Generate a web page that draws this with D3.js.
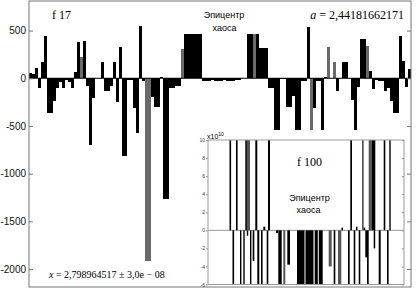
<!DOCTYPE html>
<html>
<head>
<meta charset="utf-8">
<script src="https://cdn.jsdelivr.net/npm/d3@7"></script>
<style>
  body { margin: 0; background: #fff; }
  svg { display: block; }
</style>
</head>
<body>
<div id="chart"></div>
<script>
// main series f 17: one value per sample (bar)
const mainValues = [
  60, 40, 105, -100, 170, 445, -360, -360, -240, -100,
  -35, -100, -20, -40, -100, 70, 380, 225, 390, -85,
  -700, -210, 5, 5, 175, -130, -130, -85, 170, -245,
  325, -810, -810, -20, -20, -310, -575, 545, -30, -1915,
  -1915, -200, -300, -300, 10, -1270, -1270, -100, -100, -80,
  -80, 310, 460, 460, 460, 460, 460, 460, -25, -25,
  -30, -20, -25, -30, -25, -20, -30, -25, -30, -20,
  -15, 5, 5, 460, 460, 460, 460, 315, 315, 315,
  -100, -100, -900, -900, -10, -10, -300, -300, -190, -900,
  -900, -30, -30, 540, -900, -310, -30, -30, -900, 10,
  325, 5, 170, -130, 5, 170, 170, 5, -225, -900,
  -90, 410, 410, 340, 80, -110, -20, -30, -30, -130,
  -100, -240, -365, -365, 440, 180, -90, 100
];
const mainGray = [17, 39, 40, 51, 75, 94, 100, 102, 113];
const mainTicks = [500, 0, -500, -1000, -1500, -2000];

// inset f 100 (x10^10): sample start, sample width, value
const insetStart = [21.5, 24.5, 28, 32, 35.3, 37.3, 39, 38.8, 42, 44.7,
  47.3, 49.3, 53, 55.3, 58.7, 60, 68, 70.3, 75.3, 79.3,
  89, 97.5, 106.7, 110.8, 120.7, 125.7, 130, 133.5, 140, 142.3,
  145.7, 148, 150.7, 154, 155.7, 157.3, 159, 160.7, 164, 165.7,
  170.7, 175.7, 179, 181.3];
const insetWidth = [1.6, 1.6, 1.6, 1.4, 1.4, 1.6, 3, 1.4, 1.4, 1.6,
  2, 2, 1.6, 2, 1.6, 2, 2, 3.4, 2, 2.7,
  7.5, 8, 3.1, 3.9, 3, 1.6, 3.3, 1.5, 1.7, 1.7,
  1.6, 1.5, 1.6, 1.7, 1.5, 1.7, 1.7, 3.3, 3.3, 1.5,
  2, 1.6, 1.6, 1.4];
const insetValues = [12, -8, 12, -8, -8, 12, 12, -0.6, -8, -3.4,
  12, -8, -8, 0.4, -8, 12, -0.3, -8, -8, -3.8,
  -8, -8, -8, -8, -4, -8, -8, 0.3, -8, 12,
  -8, 0.4, -8, 12, 0.3, -3, -8, 12, 12, -2,
  -8, 12, -8, 12];
const insetGray = [6, 18, 24, 26, 33, 37];
const insetTicks = [10, 8, 6, 4, 2, 0, -2, -4, -6];

const W = 416, H = 289;
const plot = {left: 29, right: 411, top: 1, bottom: 287};
const inset = {left: 208, right: 404, top: 140, bottom: 284.5};
const frameColor = "#777";
const serif = "'Liberation Serif', 'Times New Roman', serif";
const sans = "'Liberation Sans', Arial, sans-serif";
const plainNum = d => String(d); // hyphen minus, no thousands comma

const svg = d3.select("#chart").append("svg")
    .attr("width", W)
    .attr("height", H);

// ---- main chart ----
const x = d3.scaleLinear().domain([0, mainValues.length]).range([plot.left, plot.right]);
const y = d3.scaleLinear().domain([-2188, 810]).range([plot.bottom, plot.top]);

svg.append("g")
    .attr("shape-rendering", "crispEdges")
    .selectAll("rect")
    .data(mainValues)
    .enter().append("rect")
    .attr("x", (d, i) => x(i))
    .attr("width", (d, i) => x(i + 1) - x(i))
    .attr("y", d => y(Math.max(0, d)))
    .attr("height", d => Math.abs(y(d) - y(0)))
    .attr("fill", (d, i) => mainGray.includes(i) ? "#6a6a6a" : "#000");

svg.append("line") // zero line
    .attr("x1", plot.left).attr("x2", plot.right)
    .attr("y1", y(0)).attr("y2", y(0))
    .attr("stroke", "#000").attr("stroke-width", 1);

svg.append("rect") // frame
    .attr("x", plot.left).attr("y", plot.top)
    .attr("width", plot.right - plot.left).attr("height", plot.bottom - plot.top)
    .attr("fill", "none").attr("stroke", frameColor).attr("stroke-width", 1);

const yAxis = svg.append("g")
    .attr("transform", `translate(${plot.left},0)`)
    .call(d3.axisLeft(y).tickValues(mainTicks).tickSize(-4).tickPadding(3).tickFormat(plainNum));
yAxis.select(".domain").remove();
yAxis.selectAll("line").attr("stroke", frameColor);
yAxis.selectAll("text").style("font-family", sans).style("font-size", "10px").attr("fill", "#111");

const yAxisR = svg.append("g")
    .attr("transform", `translate(${plot.right},0)`)
    .call(d3.axisRight(y).tickValues(mainTicks).tickSize(-4).tickFormat(""));
yAxisR.select(".domain").remove();
yAxisR.selectAll("line").attr("stroke", frameColor);

// main labels
svg.append("text").text("f 17")
    .attr("x", 52).attr("y", 19)
    .style("font-family", serif).style("font-size", "12px");
svg.append("text").text("Эпицентр")
    .attr("x", 224).attr("y", 18).attr("text-anchor", "middle")
    .style("font-family", sans).style("font-size", "9px");
svg.append("text").text("хаоса")
    .attr("x", 224.5).attr("y", 31).attr("text-anchor", "middle")
    .style("font-family", sans).style("font-size", "9px");
let aLabel = svg.append("text")
    .attr("x", 404).attr("y", 19).attr("text-anchor", "end")
    .style("font-family", serif).style("font-size", "12px");
aLabel.append("tspan").text("a").style("font-style", "italic");
aLabel.append("tspan").text(" = 2,44181662171");
let xLabel = svg.append("text")
    .attr("x", 49).attr("y", 278)
    .style("font-family", serif).style("font-size", "10px");
xLabel.append("tspan").text("x").style("font-style", "italic");
xLabel.append("tspan").text(" = 2,798964517 ± 3,0e − 08");

// ---- inset chart ----
svg.append("rect") // white panel hiding the main bars
    .attr("x", 194).attr("y", 130)
    .attr("width", 211).attr("height", 156)
    .attr("fill", "#fff");

const xi = d3.scaleLinear().domain([0, 196]).range([inset.left, inset.right]);
const yi = d3.scaleLinear().domain([-6, 10]).range([inset.bottom, inset.top]);

svg.append("clipPath").attr("id", "insetClip")
    .append("rect")
    .attr("x", inset.left).attr("y", inset.top)
    .attr("width", inset.right - inset.left).attr("height", inset.bottom - inset.top);

const insetData = insetStart.map((s, i) => ({s: s, w: insetWidth[i], v: insetValues[i], gray: insetGray.includes(i)}));

svg.append("line") // inset zero line
    .attr("x1", inset.left).attr("x2", inset.right)
    .attr("y1", yi(0)).attr("y2", yi(0))
    .attr("stroke", "#999").attr("stroke-width", 1);

svg.append("g")
    .attr("clip-path", "url(#insetClip)")
    .selectAll("rect")
    .data(insetData)
    .enter().append("rect")
    .attr("x", d => xi(d.s))
    .attr("width", d => xi(d.s + d.w) - xi(d.s))
    .attr("y", d => yi(Math.max(0, d.v)))
    .attr("height", d => Math.abs(yi(d.v) - yi(0)))
    .attr("fill", d => d.gray ? "#555" : "#000");

svg.append("rect") // inset frame
    .attr("x", inset.left).attr("y", inset.top)
    .attr("width", inset.right - inset.left).attr("height", inset.bottom - inset.top)
    .attr("fill", "none").attr("stroke", "#999").attr("stroke-width", 1);

const yiAxis = svg.append("g")
    .attr("transform", `translate(${inset.left},0)`)
    .call(d3.axisLeft(yi).tickValues(insetTicks).tickSize(2).tickPadding(1).tickFormat(plainNum));
yiAxis.select(".domain").remove();
yiAxis.selectAll("line").attr("stroke", "#999");
yiAxis.selectAll("text").style("font-family", sans).style("font-size", "5px").attr("fill", "#333");

const yiAxisR = svg.append("g")
    .attr("transform", `translate(${inset.right},0)`)
    .call(d3.axisRight(yi).tickValues(insetTicks).tickSize(-2).tickFormat(""));
yiAxisR.select(".domain").remove();
yiAxisR.selectAll("line").attr("stroke", "#999");

let expLabel = svg.append("text")
    .attr("x", 207).attr("y", 139)
    .style("font-family", sans).style("font-size", "7px");
expLabel.append("tspan").text("x10");
expLabel.append("tspan").text("10").attr("dy", -3).style("font-size", "5px");

svg.append("text").text("f 100")
    .attr("x", 297).attr("y", 165.5)
    .style("font-family", serif).style("font-size", "12px");
svg.append("text").text("Эпицентр")
    .attr("x", 309.5).attr("y", 200.5).attr("text-anchor", "middle")
    .style("font-family", sans).style("font-size", "9px");
svg.append("text").text("хаоса")
    .attr("x", 308.5).attr("y", 213).attr("text-anchor", "middle")
    .style("font-family", sans).style("font-size", "9px");
</script>
</body>
</html>
